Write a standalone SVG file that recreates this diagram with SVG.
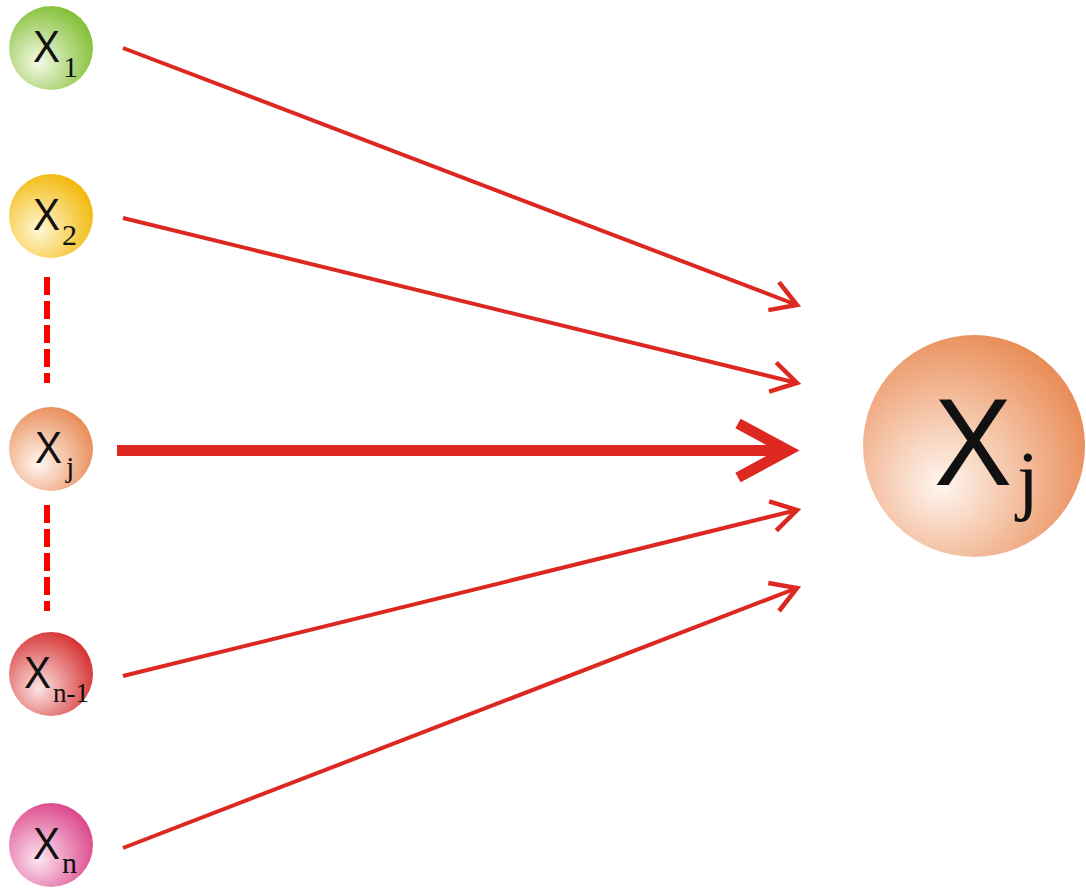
<svg xmlns="http://www.w3.org/2000/svg" width="1086" height="888" viewBox="0 0 1086 888">
<style>
.x{font-family:"Liberation Sans",Arial,sans-serif;fill:#111}
.s{font-family:"Liberation Serif","Times New Roman",serif;fill:#111}
.ln{stroke:#dc2820;stroke-width:4;fill:none}
.dash{stroke:#ff0000;stroke-width:6;stroke-dasharray:18 6;fill:none}
</style>
<defs>
<radialGradient id="gG" cx="0.38" cy="0.62" r="0.7" fx="0.35" fy="0.68"><stop offset="0" stop-color="#f4f9e6"/><stop offset="1" stop-color="#7dbd2c"/></radialGradient>
<radialGradient id="gY" cx="0.38" cy="0.62" r="0.7" fx="0.35" fy="0.68"><stop offset="0" stop-color="#fff7d6"/><stop offset="1" stop-color="#f2b600"/></radialGradient>
<radialGradient id="gO" cx="0.38" cy="0.62" r="0.7" fx="0.35" fy="0.68"><stop offset="0" stop-color="#fff6f0"/><stop offset="1" stop-color="#e8874f"/></radialGradient>
<radialGradient id="gR" cx="0.38" cy="0.62" r="0.7" fx="0.35" fy="0.68"><stop offset="0" stop-color="#fce4e4"/><stop offset="1" stop-color="#d42a2a"/></radialGradient>
<radialGradient id="gP" cx="0.38" cy="0.62" r="0.7" fx="0.35" fy="0.68"><stop offset="0" stop-color="#fce6f1"/><stop offset="1" stop-color="#da3f86"/></radialGradient>
<marker id="ah" markerUnits="userSpaceOnUse" orient="auto" markerWidth="60" markerHeight="60" viewBox="-30 -30 60 60" refX="0" refY="0" overflow="visible">
<path d="M-25,-15 L0,0 L-25,15" fill="none" stroke="#dc2820" stroke-width="4.5"/>
</marker>
<marker id="ahb" markerUnits="userSpaceOnUse" orient="auto" markerWidth="120" markerHeight="120" viewBox="-60 -60 120 120" refX="0" refY="0" overflow="visible">
<path d="M-50,-27 L0,0 L-50,27" fill="none" stroke="#dc2820" stroke-width="11"/>
</marker>
</defs>
<g id="connectors">
<line class="ln" x1="123" y1="48" x2="797" y2="305" marker-end="url(#ah)"/>
<line class="ln" x1="123" y1="218" x2="797" y2="383" marker-end="url(#ah)"/>
<line x1="117" y1="450.5" x2="788" y2="450.5" stroke="#dc2820" stroke-width="11" marker-end="url(#ahb)"/>
<line class="ln" x1="123" y1="676" x2="797" y2="510" marker-end="url(#ah)"/>
<line class="ln" x1="123" y1="848" x2="797" y2="588" marker-end="url(#ah)"/>
<line class="dash" x1="47" y1="277" x2="47" y2="383"/>
<line class="dash" x1="47" y1="505" x2="47" y2="611"/>
</g>
<g id="x1">
<circle cx="51" cy="48" r="42" fill="url(#gG)"/>
<text class="x" x="33" y="62" font-size="44" textLength="27" lengthAdjust="spacingAndGlyphs">X</text>
<text class="s" x="63" y="77" font-size="30">1</text>
</g>
<g id="x2">
<circle cx="51" cy="216" r="42" fill="url(#gY)"/>
<text class="x" x="33" y="230" font-size="44" textLength="27" lengthAdjust="spacingAndGlyphs">X</text>
<text class="s" x="62" y="245" font-size="30">2</text>
</g>
<g id="xj-small">
<circle cx="51" cy="449" r="42" fill="url(#gO)"/>
<text class="x" x="35" y="463" font-size="44" textLength="27" lengthAdjust="spacingAndGlyphs">X</text>
<text class="s" x="66" y="477" font-size="30">j</text>
</g>
<g id="xn-1">
<circle cx="51" cy="674" r="42" fill="url(#gR)"/>
<text class="x" x="24" y="688" font-size="44" textLength="27" lengthAdjust="spacingAndGlyphs">X</text>
<text class="s" x="53" y="702" font-size="27">n-1</text>
</g>
<g id="xn">
<circle cx="51" cy="845" r="42" fill="url(#gP)"/>
<text class="x" x="33" y="859" font-size="44" textLength="27" lengthAdjust="spacingAndGlyphs">X</text>
<text class="s" x="62" y="873" font-size="30">n</text>
</g>
<g id="xj-big">
<circle cx="974" cy="446" r="111" fill="url(#gO)"/>
<text class="x" x="934" y="485" font-size="125" textLength="78" lengthAdjust="spacingAndGlyphs">X</text>
<text class="s" x="1017" y="505" font-size="78">j</text>
</g>
</svg>
